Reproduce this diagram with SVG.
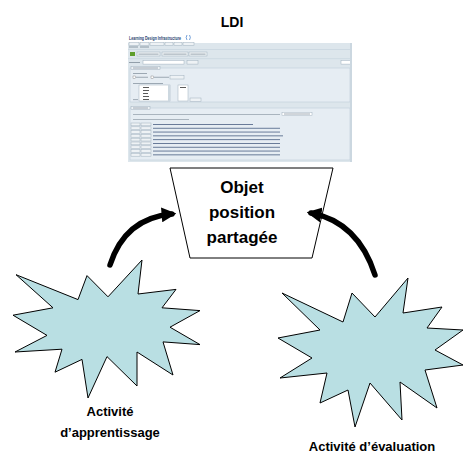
<svg xmlns="http://www.w3.org/2000/svg" width="463" height="462" viewBox="0 0 463 462">
  <defs>
    <style>
      .title { font-family: "Liberation Sans", Arial, sans-serif; font-weight: bold; fill: #000; text-anchor: middle; }
      .star { fill: #b9dfe3; stroke: #000; stroke-width: 1; stroke-linejoin: miter; }
      .box { fill: #fff; stroke: #000; stroke-width: 1; }
      .conn { fill: none; stroke: #000; stroke-width: 5.5; stroke-linecap: round; }
      .ui-btn { fill: #eef2f5; stroke: #9fb0bd; stroke-width: 0.5; }
      .ui-line { fill: #8a97a3; }
      .ui-link { fill: #5b6f8f; }
      .ui-field { fill: #e6edf3; stroke: #c3d1dc; stroke-width: 0.7; }
    </style>
    <marker id="head" viewBox="0 0 10 10" refX="7" refY="5" markerWidth="2.7" markerHeight="2.7" orient="auto" markerUnits="strokeWidth">
      <path d="M0,0 L10,5 L0,10 z" fill="#000"/>
    </marker>
  </defs>

  <rect width="463" height="462" fill="#fff"/>

  <!-- LDI screenshot -->
  <g id="ldi">
    <text class="title" x="232" y="27" font-size="14">LDI</text>
    <g id="ldi-screen">
      <rect x="128" y="32" width="224" height="130" fill="#fff"/>
      <text x="129" y="40" font-family="Liberation Sans, Arial, sans-serif" font-size="5.2" font-weight="bold" fill="#1c3b6e" textLength="52" lengthAdjust="spacingAndGlyphs">Learning Design Infrastructure</text>
      <!-- refresh icon -->
      <path d="M187,35 Q185.3,37.5 187,40 M189.5,35 Q191.2,37.5 189.5,40" fill="none" stroke="#3a78c8" stroke-width="0.7"/>
      <!-- tabs -->
      <rect x="128" y="43" width="224" height="119" fill="#dde6ec"/>
      <rect x="129" y="42.5" width="10" height="3" class="ui-btn"/>
      <rect x="140" y="42.5" width="9" height="3" class="ui-btn"/>
      <rect x="150" y="42.5" width="14" height="3" class="ui-btn"/>
      <rect x="165" y="42.5" width="8" height="3" class="ui-btn"/>
      <rect x="174" y="42.5" width="8" height="3" class="ui-btn"/>
      <rect x="183" y="42.5" width="11" height="3" class="ui-btn"/>
      <rect x="129" y="46.5" width="9" height="1" class="ui-line"/>
      <rect x="140" y="46.5" width="9" height="1" class="ui-line"/>
      <rect x="128" y="49" width="224" height="0.6" fill="#c3d1dc"/>
      <!-- toolbar -->
      <rect x="130" y="52" width="5" height="4" fill="#5f9e2c"/>
      <rect x="137" y="52" width="23" height="4" class="ui-btn"/>
      <rect x="162" y="52" width="26" height="4" class="ui-btn"/>
      <rect x="189" y="52" width="18" height="4" class="ui-btn"/>
      <rect x="138.5" y="53.7" width="20" height="0.8" class="ui-line"/>
      <rect x="163.5" y="53.7" width="23" height="0.8" class="ui-line"/>
      <rect x="190.5" y="53.7" width="15" height="0.8" class="ui-line"/>
      <rect x="128" y="58.5" width="224" height="0.6" fill="#c3d1dc"/>
      <!-- input row -->
      <rect x="129" y="62" width="11" height="0.9" class="ui-line"/>
      <rect x="143" y="60.5" width="41" height="3.6" fill="#fff" stroke="#9fb0bd" stroke-width="0.5"/>
      <rect x="187" y="60.5" width="11" height="3.6" class="ui-btn"/>
      <rect x="341" y="60.5" width="10" height="3.6" fill="#fff" stroke="#9fb0bd" stroke-width="0.5"/>
      <!-- roles fieldset -->
      <rect x="130" y="68" width="220" height="34" class="ui-field"/>
      <rect x="131" y="66.3" width="29" height="3.4" class="ui-btn"/>
      <rect x="133" y="67.6" width="25" height="0.8" class="ui-line"/>
      <rect x="133" y="73" width="14" height="0.8" class="ui-line"/>
      <rect x="133" y="76" width="2.4" height="2.4" fill="#fff" stroke="#777" stroke-width="0.4"/>
      <rect x="136" y="76.8" width="12" height="0.8" class="ui-line"/>
      <rect x="151" y="76" width="2.4" height="2.4" fill="#fff" stroke="#777" stroke-width="0.4"/>
      <rect x="154" y="76.8" width="15" height="0.8" class="ui-line"/>
      <rect x="170" y="75.4" width="14" height="3.6" class="ui-btn"/>
      <rect x="133" y="83" width="30" height="0.8" class="ui-line"/>
      <rect x="139" y="85" width="31" height="16" fill="#fff" stroke="#9fb0bd" stroke-width="0.5"/>
      <rect x="168" y="85" width="2" height="16" fill="#cdd8e0"/>
      <rect x="143" y="87" width="6" height="0.8" fill="#333"/>
      <rect x="143" y="90" width="6" height="0.8" fill="#333"/>
      <rect x="143" y="93" width="5" height="0.8" fill="#333"/>
      <rect x="143" y="96" width="6" height="0.8" fill="#333"/>
      <rect x="143" y="99" width="6" height="0.8" fill="#333"/>
      <rect x="133" y="99.3" width="5" height="0.8" class="ui-line"/>
      <rect x="178" y="85" width="10" height="16" fill="#fff" stroke="#9fb0bd" stroke-width="0.5"/>
      <rect x="180" y="87" width="6" height="0.8" fill="#333"/>
      <rect x="190" y="98" width="11" height="3.4" class="ui-btn"/>
      <!-- simulations fieldset -->
      <rect x="130" y="108" width="220" height="52" class="ui-field"/>
      <rect x="131" y="106.3" width="19" height="3.4" class="ui-btn"/>
      <rect x="133" y="107.6" width="15" height="0.8" class="ui-line"/>
      <rect x="133" y="114" width="147" height="0.8" fill="#9aa6b1"/>
      <rect x="282" y="112.3" width="30" height="3.4" fill="#fff" stroke="#9fb0bd" stroke-width="0.5"/>
      <rect x="284" y="113.6" width="26" height="0.8" class="ui-line"/>
      <rect x="133" y="119" width="56" height="0.8" fill="#9aa6b1"/>
      <g id="sim-rows">
        <rect x="131" y="123" width="9" height="2.8" class="ui-btn"/><rect x="141" y="123" width="10" height="2.8" class="ui-btn"/><rect x="153" y="124" width="100" height="0.9" class="ui-link"/>
        <rect x="131" y="126.8" width="9" height="2.8" class="ui-btn"/><rect x="141" y="126.8" width="10" height="2.8" class="ui-btn"/><rect x="153" y="127.8" width="127" height="0.9" class="ui-link"/>
        <rect x="131" y="130.6" width="9" height="2.8" class="ui-btn"/><rect x="141" y="130.6" width="10" height="2.8" class="ui-btn"/><rect x="153" y="131.6" width="127" height="0.9" class="ui-link"/>
        <rect x="131" y="134.4" width="9" height="2.8" class="ui-btn"/><rect x="141" y="134.4" width="10" height="2.8" class="ui-btn"/><rect x="153" y="135.4" width="130" height="0.9" class="ui-link"/>
        <rect x="131" y="138.2" width="9" height="2.8" class="ui-btn"/><rect x="141" y="138.2" width="10" height="2.8" class="ui-btn"/><rect x="153" y="139.2" width="127" height="0.9" class="ui-link"/>
        <rect x="131" y="142" width="9" height="2.8" class="ui-btn"/><rect x="141" y="142" width="10" height="2.8" class="ui-btn"/><rect x="153" y="143" width="127" height="0.9" class="ui-link"/>
        <rect x="131" y="145.8" width="9" height="2.8" class="ui-btn"/><rect x="141" y="145.8" width="10" height="2.8" class="ui-btn"/><rect x="153" y="146.8" width="127" height="0.9" class="ui-link"/>
        <rect x="131" y="149.6" width="9" height="2.8" class="ui-btn"/><rect x="141" y="149.6" width="10" height="2.8" class="ui-btn"/><rect x="153" y="150.6" width="127" height="0.9" class="ui-link"/>
        <rect x="131" y="153.4" width="9" height="2.8" class="ui-btn"/><rect x="141" y="153.4" width="10" height="2.8" class="ui-btn"/><rect x="153" y="154.4" width="127" height="0.9" class="ui-link"/>
      </g>
      <rect x="350" y="43" width="2" height="119" fill="#cbd7e0"/>
    </g>
  </g>

  <!-- shared position object -->
  <g id="objet">
    <polygon class="box" points="170,168 333,168 312,258 190,258"/>
    <text class="title" x="242" y="193" font-size="17">Objet</text>
    <text class="title" x="242" y="218" font-size="17">position</text>
    <text class="title" x="242" y="243" font-size="17">partagée</text>
  </g>

  <!-- learning activity -->
  <g id="apprentissage">
    <polygon class="star" points="16,274.7 53,307.8 13,315.2 47,335.4 15,352 62,349.2 55,372.2 82,359.4 88,398 107,356.6 137,386 137,352 173,375 163,341.9 200,344.6 170,327.2 200,310.6 162,307.8 176,289.4 138,294 142,260 108,296.8 87,275.6 78,299.6"/>
    <text class="title" x="110" y="416" font-size="13">Activité</text>
    <text class="title" x="110" y="437" font-size="13">d’apprentissage</text>
  </g>

  <!-- evaluation activity -->
  <g id="evaluation">
    <polygon class="star" points="282,293 320,330 278,338 312,358 280,378 327,373 320,403 348,390 355,427 370,383 402,420 400,382 437,408 425,370 463,365 435,350 463,330 427,328 442,307 403,313 408,278 375,317 352,293 343,322"/>
    <text class="title" x="372" y="451" font-size="13">Activité d’évaluation</text>
  </g>

  <!-- connectors -->
  <g id="connectors">
    <path class="conn" d="M110,265 Q125,218 172,214" marker-end="url(#head)"/>
    <path class="conn" d="M375,275 Q358,222 311,213" marker-end="url(#head)"/>
  </g>
</svg>
